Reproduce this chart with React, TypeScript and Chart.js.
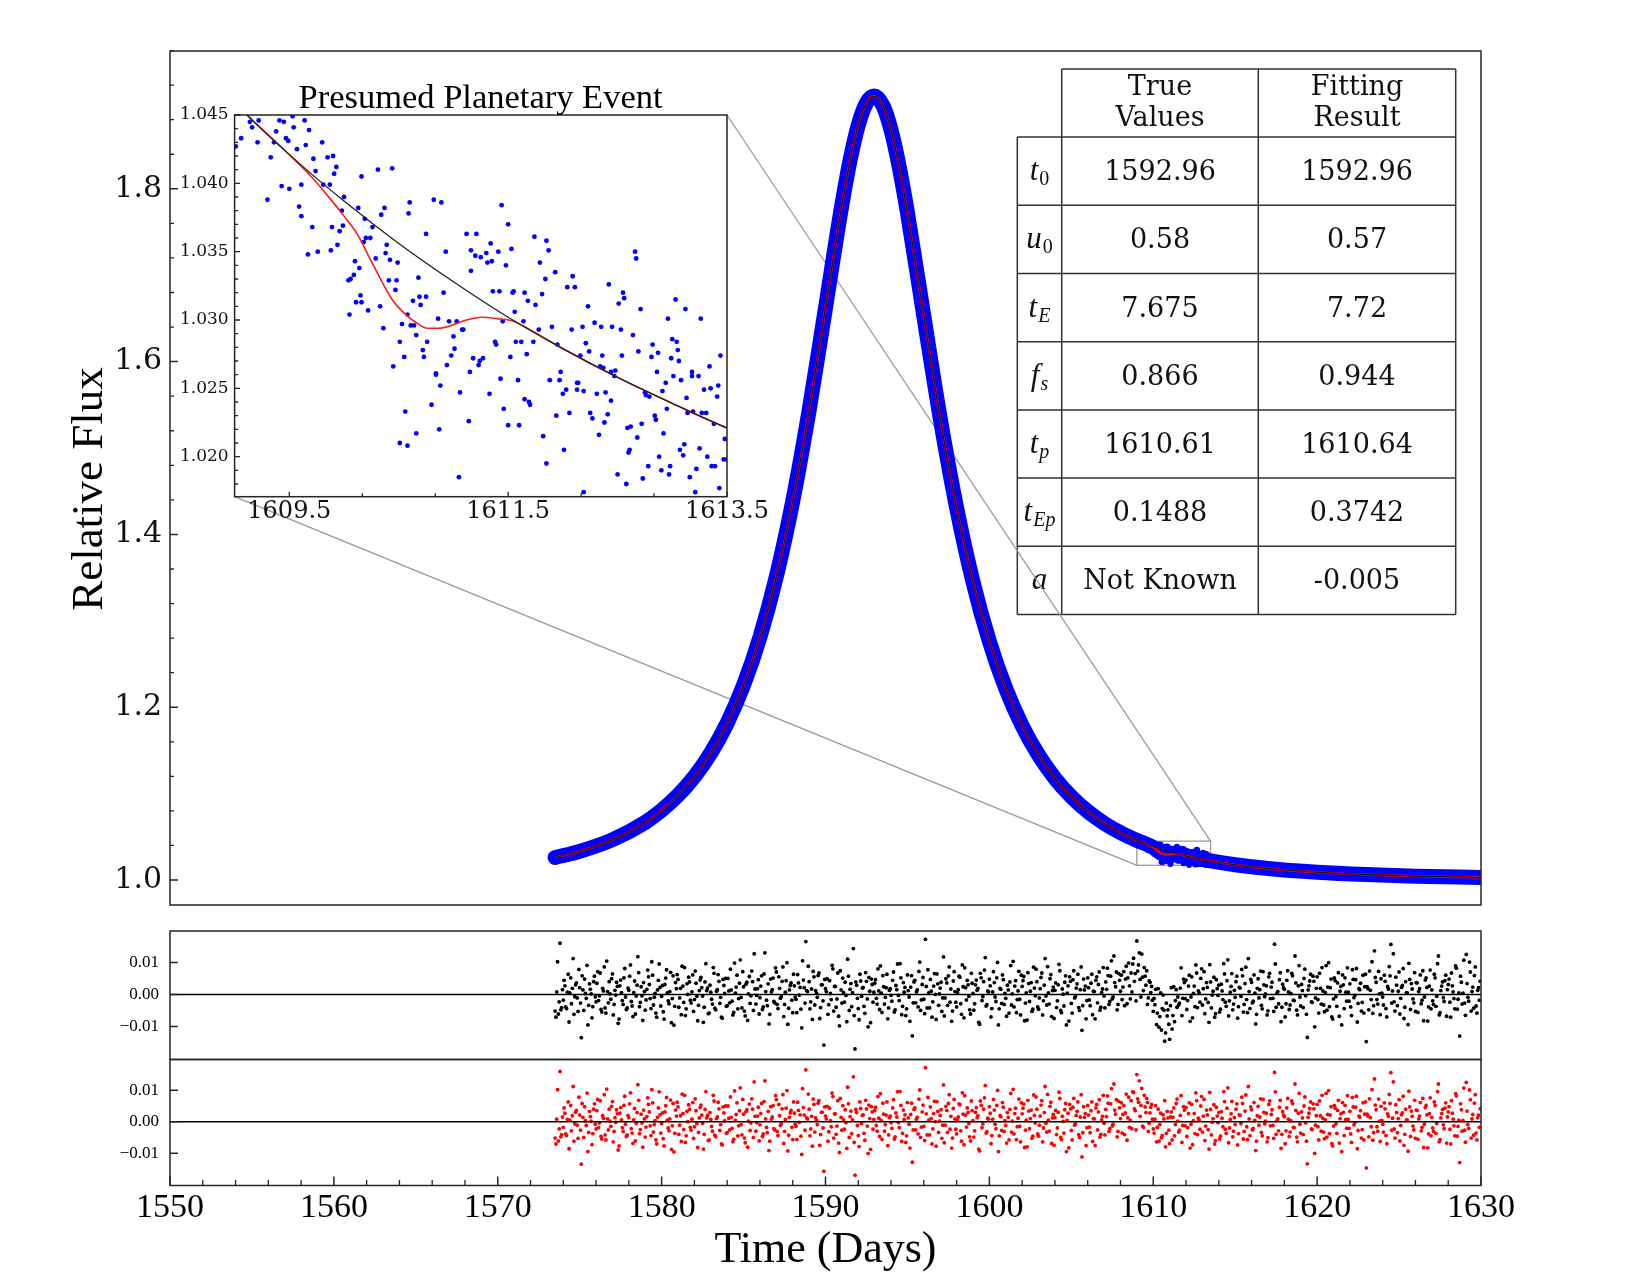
import { useEffect, useRef } from "react";
import { Chart, registerables } from "chart.js";

Chart.register(...registerables);

const PAGE_W = 1650;
const PAGE_H = 1275;

// Panel frames in page pixels
const MAIN = { left: 170, right: 1481, top: 51, bottom: 905 };
const RES_TOP = { top: 931, bottom: 1059.5 };
const RES_BOT = { top: 1059.5, bottom: 1185.5 };
const INSET = { left: 234.6, right: 727, top: 115, bottom: 496.7 };

// Axis limits
const TIME_RANGE = [1550, 1630];
const FLUX_RANGE = [0.9711, 1.9595];
const RESID_RANGE = [-0.0203, 0.0198];
const INSET_TIME_RANGE = [1609.0, 1613.5];
const INSET_FLUX_RANGE = [1.01707, 1.045];

// Tick labels
const TIME_TICKS = [1550, 1560, 1570, 1580, 1590, 1600, 1610, 1620, 1630];
const FLUX_TICKS = [1.0, 1.2, 1.4, 1.6, 1.8];
const RESID_TICKS = [0.01, 0.0, -0.01];
const INSET_TIME_TICKS = [1609.5, 1611.5, 1613.5];
const INSET_TIME_MINOR = [1610.1667, 1610.8333, 1612.1667, 1612.8333];
const INSET_FLUX_TICKS = [1.02, 1.025, 1.03, 1.035, 1.04, 1.045];

// Single-lens model light curve
const MODEL_TIMES = [
  1573.5, 1575, 1577, 1579, 1580, 1581, 1582, 1583, 1584, 1585, 1586, 1587, 1588, 1589, 1590,
  1591, 1591.5, 1592, 1592.5, 1592.96, 1593.5, 1594, 1594.5, 1595, 1596, 1597, 1598, 1599, 1600,
  1601, 1602, 1603, 1604, 1605, 1606, 1607, 1608, 1609, 1609.5, 1610, 1610.5, 1611, 1611.5, 1612,
  1612.5, 1613, 1613.5, 1615, 1617, 1620, 1623, 1626, 1630,
];
const PSPL_FLUX = [
  1.0261, 1.0332, 1.0466, 1.0668, 1.0807, 1.098, 1.1196, 1.147, 1.1816, 1.2255, 1.2811, 1.3513, 1.4384, 1.5434, 1.6623,
  1.7814, 1.833, 1.8737, 1.8995, 1.9075, 1.8965, 1.8681, 1.8253, 1.7724, 1.6525, 1.5344, 1.4308, 1.3451, 1.2762,
  1.2216, 1.1785, 1.1446, 1.1177, 1.0964, 1.0794, 1.0658, 1.0548, 1.0459, 1.0421, 1.0387, 1.0356, 1.0328, 1.0302, 1.0279,
  1.0258, 1.0239, 1.0221, 1.0177, 1.0133, 1.009, 1.0063, 1.0045, 1.003,
];

// Planetary model across the anomaly
const PLANET_TIMES = [
  1609.5, 1609.7, 1609.85, 1610.0, 1610.12, 1610.23, 1610.34, 1610.44, 1610.55, 1610.66, 1610.76,
  1610.87, 1610.98, 1611.12, 1611.26, 1611.4, 1611.55, 1611.65,
];
const PLANET_FLUX = [
  1.0421, 1.0405, 1.0391, 1.0376, 1.0363, 1.0346, 1.0329, 1.0315, 1.0305, 1.0298, 1.0294,
  1.0294, 1.0296, 1.03, 1.0302, 1.0301, 1.0299, 1.0295,
];

// Photometry around the presumed planetary event
const INSET_TIMES = [
  1609.01, 1609.06, 1609.14, 1609.16, 1609.21, 1609.22, 1609.33, 1609.36, 1609.38, 1609.41,
  1609.45, 1609.47, 1609.49, 1609.53, 1609.54, 1609.43, 1609.3, 1609.5, 1609.57, 1609.59,
  1609.61, 1609.61, 1609.64, 1609.65, 1609.68, 1609.67, 1609.71, 1609.72, 1609.74, 1609.76,
  1609.8, 1609.81, 1609.85, 1609.87, 1609.88, 1609.89, 1609.9, 1609.91, 1609.93, 1609.94,
  1609.96, 1609.98, 1610.0, 1609.99, 1610.04, 1610.05, 1610.06, 1610.09, 1610.1, 1610.11,
  1610.13, 1610.14, 1610.15, 1610.16, 1610.16, 1610.18, 1610.19, 1610.2, 1610.22, 1610.24,
  1610.26, 1610.29, 1610.31, 1610.33, 1610.34, 1610.36, 1610.37, 1610.38, 1610.39, 1610.41,
  1610.42, 1610.44, 1610.45, 1610.47, 1610.48, 1610.49, 1610.51, 1610.51, 1610.53, 1610.55,
  1610.56, 1610.58, 1610.58, 1610.6, 1610.59, 1610.61, 1610.63, 1610.64, 1610.66, 1610.66,
  1610.68, 1610.69, 1610.7, 1610.72, 1610.73, 1610.75, 1610.75, 1610.76, 1610.8, 1610.82,
  1610.84, 1610.84, 1610.86, 1610.87, 1610.88, 1610.89, 1610.91, 1610.93, 1610.94, 1610.96,
  1610.98, 1611.0, 1611.01, 1611.03, 1611.05, 1611.06, 1611.08, 1611.09, 1611.12, 1611.14,
  1611.15, 1611.16, 1611.16, 1611.18, 1611.2, 1611.21, 1611.23, 1611.24, 1611.25, 1611.27,
  1611.3, 1611.31, 1611.33, 1611.34, 1611.35, 1611.36, 1611.38, 1611.39, 1611.41, 1611.42,
  1611.43, 1611.44, 1611.45, 1611.46, 1611.48, 1611.5, 1611.5, 1611.52, 1611.53, 1611.54,
  1611.55, 1611.56, 1611.57, 1611.59, 1611.6, 1611.62, 1611.64, 1611.65, 1611.65, 1611.67,
  1611.68, 1611.69, 1611.7, 1611.73, 1611.74, 1611.75, 1611.78, 1611.79, 1611.81, 1611.82,
  1611.84, 1611.85, 1611.85, 1611.87, 1611.88, 1611.9, 1611.93, 1611.94, 1611.95, 1611.97,
  1611.98, 1612.0, 1612.01, 1612.03, 1612.04, 1612.06, 1612.08, 1612.09, 1612.11, 1612.13,
  1612.13, 1612.14, 1612.16, 1612.18, 1612.19, 1612.19, 1612.21, 1612.23, 1612.24, 1612.25,
  1612.27, 1612.29, 1612.31, 1612.33, 1612.34, 1612.35, 1612.36, 1612.37, 1612.38, 1612.39,
  1612.41, 1612.42, 1612.44, 1612.44, 1612.45, 1612.47, 1612.48, 1612.5, 1612.51, 1612.53,
  1612.54, 1612.55, 1612.56, 1612.58, 1612.59, 1612.6, 1612.61, 1612.62, 1612.64, 1612.66,
  1612.67, 1612.68, 1612.69, 1612.71, 1612.72, 1612.73, 1612.75, 1612.76, 1612.78, 1612.79,
  1612.81, 1612.82, 1612.84, 1612.85, 1612.86, 1612.87, 1612.88, 1612.9, 1612.91, 1612.92,
  1612.94, 1612.95, 1612.96, 1612.97, 1612.98, 1612.99, 1613.0, 1613.01, 1613.03, 1613.04,
  1613.05, 1613.06, 1613.07, 1613.08, 1613.1, 1613.11, 1613.12, 1613.13, 1613.14, 1613.16,
  1613.18, 1613.18, 1613.19, 1613.21, 1613.22, 1613.24, 1613.25, 1613.26, 1613.27, 1613.29,
  1613.31, 1613.32, 1613.34, 1613.35, 1613.36, 1613.38, 1613.39, 1613.41, 1613.42, 1613.43,
  1613.44, 1613.47, 1613.48, 1613.5,
];
const INSET_FLUX = [
  1.0427, 1.0433, 1.0445, 1.0441, 1.043, 1.0446, 1.0419, 1.043, 1.0438, 1.0446,
  1.0445, 1.0433, 1.0431, 1.0449, 1.0441, 1.0398, 1.0388, 1.0396, 1.0425, 1.0383,
  1.0376, 1.0399, 1.0446, 1.0428, 1.0439, 1.0348, 1.0368, 1.0418, 1.0409, 1.035,
  1.043, 1.0399, 1.0419, 1.0399, 1.0351, 1.0368, 1.042, 1.0407, 1.0412, 1.0355,
  1.0365, 1.038, 1.039, 1.0369, 1.0329, 1.0304, 1.033, 1.0333, 1.0343, 1.0313,
  1.0382, 1.0338, 1.0318, 1.0405, 1.0313, 1.0357, 1.0374, 1.036, 1.0307, 1.036,
  1.0368, 1.0345, 1.041, 1.031, 1.0377, 1.0294, 1.0382, 1.0349, 1.0355, 1.0329,
  1.0344, 1.0411, 1.0266, 1.0322, 1.0329, 1.0342, 1.021, 1.0284, 1.0297, 1.0273,
  1.0233, 1.0208, 1.0304, 1.0386, 1.0378, 1.0296, 1.0314, 1.0296, 1.0217, 1.0289,
  1.0331, 1.0317, 1.0311, 1.0278, 1.0273, 1.0363, 1.0317, 1.0284, 1.0238, 1.0388,
  1.026, 1.0261, 1.0301, 1.022, 1.0252, 1.0386, 1.032, 1.035, 1.0267, 1.0299,
  1.0274, 1.0288, 1.0279, 1.0299, 1.0185, 1.0247, 1.0293, 1.0293, 1.0363, 1.0226,
  1.0262, 1.0336, 1.0351, 1.0272, 1.0347, 1.0363, 1.0267, 1.027, 1.0346, 1.0272,
  1.0349, 1.0342, 1.0246, 1.0356, 1.0343, 1.0321, 1.0284, 1.0282, 1.035, 1.0321,
  1.0257, 1.0384, 1.0299, 1.0235, 1.034, 1.037, 1.0223, 1.0273, 1.0352, 1.032,
  1.0321, 1.0306, 1.0284, 1.0256, 1.0223, 1.0284, 1.0299, 1.032, 1.0242, 1.0275,
  1.0314, 1.024, 1.0238, 1.0284, 1.0361, 1.0311, 1.0293, 1.0342, 1.0319, 1.0215,
  1.033, 1.0195, 1.0358, 1.0351, 1.0256, 1.0295, 1.0335, 1.023, 1.0282, 1.0256,
  1.0262, 1.0246, 1.0205, 1.0249, 1.0324, 1.0232, 1.0293, 1.0332, 1.0324, 1.0249,
  1.0254, 1.0254, 1.0274, 1.0295, 1.0174, 1.0248, 1.0283, 1.031, 1.0277, 1.0232,
  1.0228, 1.0298, 1.0246, 1.0216, 1.0266, 1.0295, 1.0274, 1.0265, 1.0225, 1.0247,
  1.0231, 1.0326, 1.0262, 1.0241, 1.0295, 1.0259, 1.0263, 1.0187, 1.0312, 1.0293,
  1.0274, 1.032, 1.0316, 1.018, 1.0221, 1.0203, 1.0205, 1.0222, 1.0289, 1.035,
  1.0345, 1.0214, 1.0277, 1.0308, 1.0224, 1.0184, 1.0247, 1.0245, 1.0193, 1.0244,
  1.0273, 1.0282, 1.023, 1.0227, 1.0262, 1.0276, 1.02, 1.019, 1.0248, 1.0217,
  1.0254, 1.0235, 1.0301, 1.0187, 1.0193, 1.0272, 1.0286, 1.0259, 1.0315, 1.0284,
  1.0278, 1.027, 1.0205, 1.0256, 1.0201, 1.0209, 1.0308, 1.0243, 1.0232, 1.0185,
  1.0259, 1.0262, 1.0233, 1.0174, 1.0191, 1.0259, 1.0206, 1.0301, 1.0232, 1.0249,
  1.0232, 1.02, 1.0266, 1.025, 1.0193, 1.0224, 1.0193, 1.0244, 1.0252, 1.0177,
  1.0274, 1.0198, 1.0213, 1.0198,
];

// Residual sampling times (days), first cadence
const RESID_TIMES_A = [
  1573.5, 1573.6, 1573.7, 1573.8, 1573.9,
  1574, 1574.1, 1574.2, 1574.3, 1574.4, 1574.5, 1574.6, 1574.7, 1574.8, 1574.9,
  1575, 1575.1, 1575.2, 1575.3, 1575.4, 1575.5, 1575.6, 1575.7, 1575.8, 1575.9,
  1576, 1576.1, 1576.2, 1576.3, 1576.4, 1576.5, 1576.6, 1576.7, 1576.8, 1576.9,
  1577, 1577.1, 1577.2, 1577.3, 1577.4, 1577.5, 1577.6, 1577.7, 1577.8, 1577.9,
  1578, 1578.1, 1578.2, 1578.3, 1578.4, 1578.5, 1578.6, 1578.7, 1578.8, 1578.9,
  1579, 1579.1, 1579.2, 1579.3, 1579.4, 1579.5, 1579.6, 1579.7, 1579.8, 1579.9,
  1580, 1580.1, 1580.2, 1580.3, 1580.4, 1580.5, 1580.6, 1580.7, 1580.8, 1580.9,
  1581, 1581.1, 1581.2, 1581.3, 1581.4, 1581.5, 1581.6, 1581.7, 1581.8, 1581.9,
  1582, 1582.1, 1582.2, 1582.3, 1582.4, 1582.5, 1582.6, 1582.7, 1582.8, 1582.9,
  1583, 1583.1, 1583.2, 1583.3, 1583.4, 1583.5, 1583.6, 1583.7, 1583.8, 1583.9,
  1584, 1584.1, 1584.2, 1584.3, 1584.4, 1584.5, 1584.6, 1584.7, 1584.8, 1584.9,
  1585, 1585.1, 1585.2, 1585.3, 1585.4, 1585.5, 1585.6, 1585.7, 1585.8, 1585.9,
  1586, 1586.1, 1586.2, 1586.3, 1586.4, 1586.5, 1586.6, 1586.7, 1586.8, 1586.9,
  1587, 1587.1, 1587.2, 1587.3, 1587.4, 1587.5, 1587.6, 1587.7, 1587.8, 1587.9,
  1588, 1588.1, 1588.2, 1588.3, 1588.4, 1588.5, 1588.6, 1588.7, 1588.8, 1588.9,
  1589, 1589.1, 1589.2, 1589.3, 1589.4, 1589.5, 1589.6, 1589.7, 1589.8, 1589.9,
  1590, 1590.1, 1590.2, 1590.3, 1590.4, 1590.5, 1590.6, 1590.7, 1590.8, 1590.9,
  1591, 1591.1, 1591.2, 1591.3, 1591.4, 1591.5, 1591.6, 1591.7, 1591.8, 1591.9,
  1592, 1592.1, 1592.2, 1592.3, 1592.4, 1592.5, 1592.6, 1592.7, 1592.8, 1592.9,
  1593, 1593.1, 1593.2, 1593.3, 1593.4, 1593.5, 1593.6, 1593.7, 1593.8, 1593.9,
  1594, 1594.1, 1594.2, 1594.3, 1594.4, 1594.5, 1594.6, 1594.7, 1594.8, 1594.9,
  1595, 1595.1, 1595.2, 1595.3, 1595.4, 1595.5, 1595.6, 1595.7, 1595.8, 1595.9,
  1596, 1596.1, 1596.2, 1596.3, 1596.4, 1596.5, 1596.6, 1596.7, 1596.8, 1596.9,
  1597, 1597.1, 1597.2, 1597.3, 1597.4, 1597.5, 1597.6, 1597.7, 1597.8, 1597.9,
  1598, 1598.1, 1598.2, 1598.3, 1598.4, 1598.5, 1598.6, 1598.7, 1598.8, 1598.9,
  1599, 1599.1, 1599.2, 1599.3, 1599.4, 1599.5, 1599.6, 1599.7, 1599.8, 1599.9,
  1600, 1600.1, 1600.2, 1600.3, 1600.4, 1600.5, 1600.6, 1600.7, 1600.8, 1600.9,
  1601, 1601.1, 1601.2, 1601.3, 1601.4, 1601.5, 1601.6, 1601.7, 1601.8, 1601.9,
  1602, 1602.1, 1602.2, 1602.3, 1602.4, 1602.5, 1602.6, 1602.7, 1602.8, 1602.9,
  1603, 1603.1, 1603.2, 1603.3, 1603.4, 1603.5, 1603.6, 1603.7, 1603.8, 1603.9,
  1604, 1604.1, 1604.2, 1604.3, 1604.4, 1604.5, 1604.6, 1604.7, 1604.8, 1604.9,
  1605, 1605.1, 1605.2, 1605.3, 1605.4, 1605.5, 1605.6, 1605.7, 1605.8, 1605.9,
  1606, 1606.1, 1606.2, 1606.3, 1606.4, 1606.5, 1606.6, 1606.7, 1606.8, 1606.9,
  1607, 1607.1, 1607.2, 1607.3, 1607.4, 1607.5, 1607.6, 1607.7, 1607.8, 1607.9,
  1608, 1608.1, 1608.2, 1608.3, 1608.4, 1608.5, 1608.6, 1608.7, 1608.8, 1608.9,
  1609, 1609.1, 1609.2, 1609.3, 1609.4, 1609.5, 1609.6, 1609.7, 1609.8, 1609.9,
  1610, 1610.1, 1610.2, 1610.3, 1610.4, 1610.5, 1610.6, 1610.7, 1610.8, 1610.9,
  1611, 1611.1, 1611.2, 1611.3, 1611.4, 1611.5, 1611.6, 1611.7, 1611.8, 1611.9,
  1612, 1612.1, 1612.2, 1612.3, 1612.4, 1612.5, 1612.6, 1612.7, 1612.8, 1612.9,
  1613, 1613.1, 1613.2, 1613.3, 1613.4, 1613.5, 1613.6, 1613.7, 1613.8, 1613.9,
  1614, 1614.1, 1614.2, 1614.3, 1614.4, 1614.5, 1614.6, 1614.7, 1614.8, 1614.9,
  1615, 1615.1, 1615.2, 1615.3, 1615.4, 1615.5, 1615.6, 1615.7, 1615.8, 1615.9,
  1616, 1616.1, 1616.2, 1616.3, 1616.4, 1616.5, 1616.6, 1616.7, 1616.8, 1616.9,
  1617, 1617.1, 1617.2, 1617.3, 1617.4, 1617.5, 1617.6, 1617.7, 1617.8, 1617.9,
  1618, 1618.1, 1618.2, 1618.3, 1618.4, 1618.5, 1618.6, 1618.7, 1618.8, 1618.9,
  1619, 1619.1, 1619.2, 1619.3, 1619.4, 1619.5, 1619.6, 1619.7, 1619.8, 1619.9,
  1620, 1620.1, 1620.2, 1620.3, 1620.4, 1620.5, 1620.6, 1620.7, 1620.8, 1620.9,
  1621, 1621.1, 1621.2, 1621.3, 1621.4, 1621.5, 1621.6, 1621.7, 1621.8, 1621.9,
  1622, 1622.1, 1622.2, 1622.3, 1622.4, 1622.5, 1622.6, 1622.7, 1622.8, 1622.9,
  1623, 1623.1, 1623.2, 1623.3, 1623.4, 1623.5, 1623.6, 1623.7, 1623.8, 1623.9,
  1624, 1624.1, 1624.2, 1624.3, 1624.4, 1624.5, 1624.6, 1624.7, 1624.8, 1624.9,
  1625, 1625.1, 1625.2, 1625.3, 1625.4, 1625.5, 1625.6, 1625.7, 1625.8, 1625.9,
  1626, 1626.1, 1626.2, 1626.3, 1626.4, 1626.5, 1626.6, 1626.7, 1626.8, 1626.9,
  1627, 1627.1, 1627.2, 1627.3, 1627.4, 1627.5, 1627.6, 1627.7, 1627.8, 1627.9,
  1628, 1628.1, 1628.2, 1628.3, 1628.4, 1628.5, 1628.6, 1628.7, 1628.8, 1628.9,
  1629, 1629.1, 1629.2, 1629.3, 1629.4, 1629.5, 1629.6, 1629.7, 1629.8, 1629.9,
  1630,
];

// Residuals from the planetary fit at the first cadence, units of 1e-4
const RESID_PLANET_A_E4 = [
  -52, 8, -61, 160, -41,
  -18, 27, -44, 63, 5, -29, 112, -7, 36, -53,
  21, -135, 14, 48, -12, -95, 33, 2, -38, 57,
  -23, 71, -4, -47, 19, 86, -58, 9, 40, -15,
  64, -31, -2, 25, -77, 45, -19, 52, -8, -42,
  13, 92, -36, 6, -61, 29, 68, -25, -4, 37,
  -49, 16, 55, -13, 102, -33, 3, -71, 44, 22,
  -6, -54, 31, 77, -20, 9, -88, 58, -37, 18,
  47, -11, -63, 26, 84, -45, 0, 39, -27, 61,
  -16, 35, -82, 12, 53, -5, -40, 96, 20, -58,
  7, -30, 66, -48, 15, 41, -9, -74, 28, 50,
  -35, 11, 79, -21, -56, 4, 60, -13, 108, -42,
  24, -67, 38, 2, -28, 73, -50, 17, -3, 46,
  -10, 58, -39, 130, -18, 33, -62, 8, 51, -26,
  70, -44, 19, -7, 86, -31, 43, -93, 14, 36,
  -57, 27, -15, 62, -2, -46, 105, 21, 165, 9,
  40, -23, -78, 55, 12, -9, 67, -41, 30, -158,
  18, 49, -32, 3, 91, -52, 25, -14, -68, 74,
  -27, 6, 38, -85, 57, 16, -38, 143, -170, 29,
  -44, 63, -6, 22, -59, 41, -101, 10, 48, -24,
  35, -12, 80, -47, 4, 59, -30, 21, -76, 13,
  -3, 44, -55, 28, 95, -19, 52, -37, 7, -66,
  61, -8, 23, -129, 39, -26, 14, 72, -50, 31,
  -15, 172, -42, 5, 47, -71, 26, 0, 64, -34,
  20, -53, 117, -11, 36, 58, -24, -84, 42, 9,
  -39, 15, 54, -62, 24, 83, -17, 30, -48, 66,
  3, -29, 45, 19, -93, 52, -7, 76, -36, 11,
  48, -70, 8, 37, -22, 100, -45, 16, 61, -31,
  -12, 29, -58, 90, 2, -39, 43, -16, 72, -64,
  25, 56, -27, -80, 34, 10, -53, 85, -4, 40,
  -46, 18, 67, -20, 112, -33, 5, 49, -69, 23,
  13, -41, 30, 74, -57, 1, 38, -95, 27, 55,
  -28, 46, -11, 20, 63, -50, 86, -35, 14, -76,
  52, -17, 35, -63, 9, 44, -26, 70, -40, 17,
  -5, 39, 82, -31, 57, -14, 120, 24, -48, 65,
  10, -36, 51, 28, -59, 78, 4, -22, 93, 35,
  150, 62, 17, 106, -18, 47, 74, -31, 28, 55,
  -23, 8, -64, 40, -9, -51, 22, 67, -37, 12,
  -70, 31, 14, -45, 58, 2, -27, 83, -12, 37,
  45, -19, 60, -8, -73, 26, 92, -41, 5, 50,
  -33, 71, -14, 22, -87, 39, -2, 54, -60, 18,
  29, -46, 11, 96, -24, 43, -67, 7, 65, -30,
  -9, 57, -38, 20, 78, -55, 34, -16, 112, -44,
  38, -21, 4, -62, 49, 15, -34, 71, -7, 27,
  -51, 66, 23, -12, 157, -40, 9, 46, -85, 32,
  16, -29, 74, -47, 3, 58, -19, 36, -64, 90,
  -36, 12, 50, -4, -134, 27, 63, -25, 41, -11,
  55, -58, 19, 84, -33, 6, -49, 99, 21, -70,
  -14, 43, -37, 68, 10, -95, 30, 52, -21, 7,
  33, -66, 47, -3, 81, -28, 15, -52, 60, 24,
  -147, 18, 73, -16, -59, 136, 38, -30, 2, 49,
  -8, 60, -44, 25, 87, 156, 11, -23, 54, -35,
  70, -12, 28, -75, 40, 5, 97, -47, 17, -26,
  -53, 36, 9, 61, -18, -82, 45, 22, -39, 76,
  14, -31, 52, -6, 120, -57, 26, -10, 43, -68,
  31, -24, 67, 8, -45, 82, -15, -130, 38, 4,
  -27, 125, -9, 101, -52, 23, 59, -36, 13, -18,
  42,
];

// Residual sampling times (days), interleaved cadence
const RESID_TIMES_B = [
  1573.55, 1573.65, 1573.75, 1573.85, 1573.95,
  1574.05, 1574.15, 1574.25, 1574.35, 1574.45, 1574.55, 1574.65, 1574.75, 1574.85, 1574.95,
  1575.05, 1575.15, 1575.25, 1575.35, 1575.45, 1575.55, 1575.65, 1575.75, 1575.85, 1575.95,
  1576.05, 1576.15, 1576.25, 1576.35, 1576.45, 1576.55, 1576.65, 1576.75, 1576.85, 1576.95,
  1577.05, 1577.15, 1577.25, 1577.35, 1577.45, 1577.55, 1577.65, 1577.75, 1577.85, 1577.95,
  1578.05, 1578.15, 1578.25, 1578.35, 1578.45, 1578.55, 1578.65, 1578.75, 1578.85, 1578.95,
  1579.05, 1579.15, 1579.25, 1579.35, 1579.45, 1579.55, 1579.65, 1579.75, 1579.85, 1579.95,
  1580.05, 1580.15, 1580.25, 1580.35, 1580.45, 1580.55, 1580.65, 1580.75, 1580.85, 1580.95,
  1581.05, 1581.15, 1581.25, 1581.35, 1581.45, 1581.55, 1581.65, 1581.75, 1581.85, 1581.95,
  1582.05, 1582.15, 1582.25, 1582.35, 1582.45, 1582.55, 1582.65, 1582.75, 1582.85, 1582.95,
  1583.05, 1583.15, 1583.25, 1583.35, 1583.45, 1583.55, 1583.65, 1583.75, 1583.85, 1583.95,
  1584.05, 1584.15, 1584.25, 1584.35, 1584.45, 1584.55, 1584.65, 1584.75, 1584.85, 1584.95,
  1585.05, 1585.15, 1585.25, 1585.35, 1585.45, 1585.55, 1585.65, 1585.75, 1585.85, 1585.95,
  1586.05, 1586.15, 1586.25, 1586.35, 1586.45, 1586.55, 1586.65, 1586.75, 1586.85, 1586.95,
  1587.05, 1587.15, 1587.25, 1587.35, 1587.45, 1587.55, 1587.65, 1587.75, 1587.85, 1587.95,
  1588.05, 1588.15, 1588.25, 1588.35, 1588.45, 1588.55, 1588.65, 1588.75, 1588.85, 1588.95,
  1589.05, 1589.15, 1589.25, 1589.35, 1589.45, 1589.55, 1589.65, 1589.75, 1589.85, 1589.95,
  1590.05, 1590.15, 1590.25, 1590.35, 1590.45, 1590.55, 1590.65, 1590.75, 1590.85, 1590.95,
  1591.05, 1591.15, 1591.25, 1591.35, 1591.45, 1591.55, 1591.65, 1591.75, 1591.85, 1591.95,
  1592.05, 1592.15, 1592.25, 1592.35, 1592.45, 1592.55, 1592.65, 1592.75, 1592.85, 1592.95,
  1593.05, 1593.15, 1593.25, 1593.35, 1593.45, 1593.55, 1593.65, 1593.75, 1593.85, 1593.95,
  1594.05, 1594.15, 1594.25, 1594.35, 1594.45, 1594.55, 1594.65, 1594.75, 1594.85, 1594.95,
  1595.05, 1595.15, 1595.25, 1595.35, 1595.45, 1595.55, 1595.65, 1595.75, 1595.85, 1595.95,
  1596.05, 1596.15, 1596.25, 1596.35, 1596.45, 1596.55, 1596.65, 1596.75, 1596.85, 1596.95,
  1597.05, 1597.15, 1597.25, 1597.35, 1597.45, 1597.55, 1597.65, 1597.75, 1597.85, 1597.95,
  1598.05, 1598.15, 1598.25, 1598.35, 1598.45, 1598.55, 1598.65, 1598.75, 1598.85, 1598.95,
  1599.05, 1599.15, 1599.25, 1599.35, 1599.45, 1599.55, 1599.65, 1599.75, 1599.85, 1599.95,
  1600.05, 1600.15, 1600.25, 1600.35, 1600.45, 1600.55, 1600.65, 1600.75, 1600.85, 1600.95,
  1601.05, 1601.15, 1601.25, 1601.35, 1601.45, 1601.55, 1601.65, 1601.75, 1601.85, 1601.95,
  1602.05, 1602.15, 1602.25, 1602.35, 1602.45, 1602.55, 1602.65, 1602.75, 1602.85, 1602.95,
  1603.05, 1603.15, 1603.25, 1603.35, 1603.45, 1603.55, 1603.65, 1603.75, 1603.85, 1603.95,
  1604.05, 1604.15, 1604.25, 1604.35, 1604.45, 1604.55, 1604.65, 1604.75, 1604.85, 1604.95,
  1605.05, 1605.15, 1605.25, 1605.35, 1605.45, 1605.55, 1605.65, 1605.75, 1605.85, 1605.95,
  1606.05, 1606.15, 1606.25, 1606.35, 1606.45, 1606.55, 1606.65, 1606.75, 1606.85, 1606.95,
  1607.05, 1607.15, 1607.25, 1607.35, 1607.45, 1607.55, 1607.65, 1607.75, 1607.85, 1607.95,
  1608.05, 1608.15, 1608.25, 1608.35, 1608.45, 1608.55, 1608.65, 1608.75, 1608.85, 1608.95,
  1609.05, 1609.15, 1609.25, 1609.35, 1609.45, 1609.55, 1609.65, 1609.75, 1609.85, 1609.95,
  1610.05, 1610.15, 1610.25, 1610.35, 1610.45, 1610.55, 1610.65, 1610.75, 1610.85, 1610.95,
  1611.05, 1611.15, 1611.25, 1611.35, 1611.45, 1611.55, 1611.65, 1611.75, 1611.85, 1611.95,
  1612.05, 1612.15, 1612.25, 1612.35, 1612.45, 1612.55, 1612.65, 1612.75, 1612.85, 1612.95,
  1613.05, 1613.15, 1613.25, 1613.35, 1613.45, 1613.55, 1613.65, 1613.75, 1613.85, 1613.95,
  1614.05, 1614.15, 1614.25, 1614.35, 1614.45, 1614.55, 1614.65, 1614.75, 1614.85, 1614.95,
  1615.05, 1615.15, 1615.25, 1615.35, 1615.45, 1615.55, 1615.65, 1615.75, 1615.85, 1615.95,
  1616.05, 1616.15, 1616.25, 1616.35, 1616.45, 1616.55, 1616.65, 1616.75, 1616.85, 1616.95,
  1617.05, 1617.15, 1617.25, 1617.35, 1617.45, 1617.55, 1617.65, 1617.75, 1617.85, 1617.95,
  1618.05, 1618.15, 1618.25, 1618.35, 1618.45, 1618.55, 1618.65, 1618.75, 1618.85, 1618.95,
  1619.05, 1619.15, 1619.25, 1619.35, 1619.45, 1619.55, 1619.65, 1619.75, 1619.85, 1619.95,
  1620.05, 1620.15, 1620.25, 1620.35, 1620.45, 1620.55, 1620.65, 1620.75, 1620.85, 1620.95,
  1621.05, 1621.15, 1621.25, 1621.35, 1621.45, 1621.55, 1621.65, 1621.75, 1621.85, 1621.95,
  1622.05, 1622.15, 1622.25, 1622.35, 1622.45, 1622.55, 1622.65, 1622.75, 1622.85, 1622.95,
  1623.05, 1623.15, 1623.25, 1623.35, 1623.45, 1623.55, 1623.65, 1623.75, 1623.85, 1623.95,
  1624.05, 1624.15, 1624.25, 1624.35, 1624.45, 1624.55, 1624.65, 1624.75, 1624.85, 1624.95,
  1625.05, 1625.15, 1625.25, 1625.35, 1625.45, 1625.55, 1625.65, 1625.75, 1625.85, 1625.95,
  1626.05, 1626.15, 1626.25, 1626.35, 1626.45, 1626.55, 1626.65, 1626.75, 1626.85, 1626.95,
  1627.05, 1627.15, 1627.25, 1627.35, 1627.45, 1627.55, 1627.65, 1627.75, 1627.85, 1627.95,
  1628.05, 1628.15, 1628.25, 1628.35, 1628.45, 1628.55, 1628.65, 1628.75, 1628.85, 1628.95,
  1629.05, 1629.15, 1629.25, 1629.35, 1629.45, 1629.55, 1629.65, 1629.75, 1629.85, 1629.95,
];

// Residuals from the planetary fit at the interleaved cadence, units of 1e-4
const RESID_PLANET_B_E4 = [
  -71, 102, -23, -48, 15,
  44, -39, 7, -86, 52, 19, -62, 30, -11, 78,
  -27, 58, -50, 3, 91, -34, 16, -73, 40, -8,
  35, -19, 67, -55, 11, -42, 104, -26, 2, 49,
  -64, 13, 38, -90, 27, 6, -31, 81, -47, 20,
  57, -22, -69, 42, -5, 118, -38, 24, -81, 9,
  -17, 76, 31, -44, 60, -9, -58, 14, 95, -36,
  28, -77, 51, 5, -29, 69, -13, -96, 37, 62,
  -40, 19, 88, -25, -66, 33, 54, -18, 8, -53,
  73, -6, -34, 45, 21, -87, 39, 12, -60, 29,
  -15, 84, -43, 10, 62, -28, -71, 47, 3, -37,
  50, -26, 14, -64, 98, 23, -45, 35, -9, 71,
  -52, 32, -81, 56, -4, 40, 127, -30, 18, -61,
  26, -47, 64, 9, -35, -92, 48, 15, -22, 83,
  -31, 55, -12, 41, -69, 7, 99, -43, 28, -18,
  63, -8, -57, 36, 22, -104, 45, -27, 12, 88,
  -45, 17, 72, -33, 4, 59, -75, 30, -20, 47,
  9, -62, 43, -16, 80, 25, -40, 67, -98, 14,
  51, -24, -3, 110, -50, 34, 6, -66, 39, -12,
  -79, 42, 20, -37, 68, -14, 53, -88, 31, 7,
  46, -30, 11, 89, -56, 24, -9, 63, -42, 18,
  -21, 70, -48, 15, -3, 96, -63, 37, 22, -45,
  12, -84, 59, -26, 44, 8, -39, 101, -17, 53,
  -60, 25, 77, -42, 10, -23, 65, -78, 33, 2,
  38, -11, -67, 49, -34, 86, 17, -52, 71, -24,
  6, 57, -29, 92, -73, 21, 44, -6, -61, 35,
  -49, 30, 13, -87, 66, -19, 40, 115, -32, 8,
  27, -44, 71, -8, 52, -95, 19, -28, 46, 3,
  -68, 14, 39, -33, 103, 26, -57, 11, -15, 60,
  43, -82, 5, 68, -22, 37, -46, 20, 79, -39,
  -11, 53, -64, 29, -5, 87, -30, 62, 12, -75,
  36, -20, 94, -50, 17, -36, 58, 4, -83, 41,
  -58, 74, -7, 33, -41, 15, -112, 48, 26, -19,
  21, -35, 63, 10, -76, 55, 31, -49, 6, 84,
  -42, 16, 59, -22, 105, -8, 37, 70, -31, 44,
  60, 23, -41, 88, 12, -18, 67, 95, 41, -26,
  73, 130, 52, -14, 84, 29, 61, -5, 46, 8,
  -36, 51, -18, -62, 27, -44, 9, -80, 33, -27,
  15, -58, 44, -9, 72, -33, 20, -66, 48, -13,
  -47, 26, -84, 55, 3, -38, 67, 11, -24, 80,
  18, -60, 37, -25, 93, -42, 10, -71, 46, -3,
  -55, 32, -16, 64, -37, 108, -20, 25, -48, 13,
  40, -74, 22, -6, 58, -31, 85, -57, 9, 47,
  -26, 61, -92, 19, -11, 73, -45, 30, 2, -64,
  55, -13, 38, -53, 95, 4, -29, 68, -40, 21,
  -70, 44, 8, -33, 66, -18, 120, -49, 27, -8,
  31, -41, 79, -62, 14, 42, -23, 57, -101, 19,
  -16, 66, -30, 11, -54, 90, 23, -38, 48, -77,
  52, -7, 36, -68, 25, 61, -44, 7, 83, -21,
  -39, 77, -10, 46, -86, 18, 35, -25, -58, 63,
  24, -48, 13, 102, -35, 53, -16, 72, -63, 4,
  -33, 41, -70, 17, 58, -27, 127, -52, 29, 10,
  -61, 22, 81, -40, 6, -94, 47, 34, -14, 68,
  37, -56, 18, -29, 74, -8, 52, -83, 26, -45,
  -20, 63, -37, 96, -64, 12, 39, -22, 60, 15,
  48, -71, 27, -13, 89, -46, 5, 57, -30, 107,
  -65, 34, -21, 70, 9, -43, 86, -58, 21, 41,
];

// Single-lens residuals where they depart from the planetary fit, units of 1e-4
const PSPL_WINDOW_TIMES = [
  1608, 1608.05, 1608.1, 1608.15, 1608.2, 1608.25, 1608.3, 1608.35, 1608.4, 1608.45,
  1608.5, 1608.55, 1608.6, 1608.65, 1608.7, 1608.75, 1608.8, 1608.85, 1608.9, 1608.95,
  1609, 1609.05, 1609.1, 1609.15, 1609.2, 1609.25, 1609.3, 1609.35, 1609.4, 1609.45,
  1609.5, 1609.55, 1609.6, 1609.65, 1609.7, 1609.75, 1609.8, 1609.85, 1609.9, 1609.95,
  1610, 1610.05, 1610.1, 1610.15, 1610.2, 1610.25, 1610.3, 1610.35, 1610.4, 1610.45,
  1610.5, 1610.55, 1610.6, 1610.65, 1610.7, 1610.75, 1610.8, 1610.85, 1610.9, 1610.95,
  1611, 1611.05, 1611.1, 1611.15, 1611.2, 1611.25, 1611.3, 1611.35, 1611.4, 1611.45,
  1611.5,
];
const PSPL_WINDOW_E4 = [
  10, 60, -16, 23, 71, -35, 48, 88, -29, 52,
  98, 27, -14, 67, 8, 95, 113, 41, 65, -20,
  167, 73, 92, 130, 47, -8, 126, 54, 12, 84,
  57, 29, 74, -31, -11, 42, 38, 6, 25, -18,
  -53, -12, -32, 16, -94, -58, 18, -102, -69, 5,
  -111, -44, -2, -49, -146, -120, -27, -67, -48, -93,
  -140, -35, 21, -108, -66, 24, -85, -19, 15, -40,
  -8,
];

// Parameter table
const TABLE_HEADERS = [["True", "Values"], ["Fitting", "Result"]];
const TABLE_SYMBOLS = [
  { sym: "t", sub: "0" },
  { sym: "u", sub: "0" },
  { sym: "t", sub: "E" },
  { sym: "f", sub: "s" },
  { sym: "t", sub: "p" },
  { sym: "t", sub: "Ep" },
  { sym: "a", sub: "" },
];
const TRUE_VALUES = ["1592.96", "0.58", "7.675", "0.866", "1610.61", "0.1488", "Not Known"];
const FIT_VALUES = ["1592.96", "0.57", "7.72", "0.944", "1610.64", "0.3742", "-0.005"];

// Table geometry
const TABLE_COLS = [1017.3, 1061.7, 1258.3, 1455.7];
const TABLE_TOP = 69.1;
const TABLE_HEAD_BOTTOM = 137.1;
const TABLE_ROW_H = 68.2;

const SERIF = "'Liberation Serif', 'Times New Roman', serif";
const DV_SERIF = "'DejaVu Serif', serif";
const FRAME = "#262626";

type P = { x: number; y: number };
const zip = (xs: number[], ys: number[], k = 1): P[] => {
  const n = Math.min(xs.length, ys.length);
  const out: P[] = [];
  for (let i = 0; i < n; i++) out.push({ x: xs[i], y: ys[i] * k });
  return out;
};

function psplCurve(): P[] {
  return zip(MODEL_TIMES, PSPL_FLUX);
}

function planetCurve(): P[] {
  const t0 = PLANET_TIMES[0];
  const t1 = PLANET_TIMES[PLANET_TIMES.length - 1];
  const outside = psplCurve().filter((p) => p.x < t0 || p.x > t1);
  return [...outside, ...zip(PLANET_TIMES, PLANET_FLUX)].sort((a, b) => a.x - b.x);
}

function planetResiduals(): P[] {
  return [...zip(RESID_TIMES_A, RESID_PLANET_A_E4, 1e-4), ...zip(RESID_TIMES_B, RESID_PLANET_B_E4, 1e-4)];
}

function psplResiduals(): P[] {
  const w0 = PSPL_WINDOW_TIMES[0] - 0.01;
  const w1 = PSPL_WINDOW_TIMES[PSPL_WINDOW_TIMES.length - 1] + 0.01;
  const base = planetResiduals().filter((p) => p.x < w0 || p.x > w1);
  return [...base, ...zip(PSPL_WINDOW_TIMES, PSPL_WINDOW_E4, 1e-4)];
}

function strokeFrame(ctx: CanvasRenderingContext2D, a: any) {
  ctx.save();
  ctx.strokeStyle = FRAME;
  ctx.lineWidth = 1.5;
  ctx.strokeRect(a.left, a.top, a.right - a.left, a.bottom - a.top);
  ctx.restore();
}

function leftTicks(ctx: CanvasRenderingContext2D, chart: any, values: number[], len: number, lw = 1.3) {
  const a = chart.chartArea;
  const s = chart.scales.y;
  ctx.save();
  ctx.strokeStyle = FRAME;
  ctx.lineWidth = lw;
  ctx.beginPath();
  for (const v of values) {
    const py = s.getPixelForValue(v);
    if (py < a.top - 0.5 || py > a.bottom + 0.5) continue;
    ctx.moveTo(a.left, py);
    ctx.lineTo(a.left + len, py);
  }
  ctx.stroke();
  ctx.restore();
}

function bottomTicks(ctx: CanvasRenderingContext2D, chart: any, values: number[], len: number, lw = 1.3) {
  const a = chart.chartArea;
  const s = chart.scales.x;
  ctx.save();
  ctx.strokeStyle = FRAME;
  ctx.lineWidth = lw;
  ctx.beginPath();
  for (const v of values) {
    const px = s.getPixelForValue(v);
    if (px < a.left - 0.5 || px > a.right + 0.5) continue;
    ctx.moveTo(px, a.bottom);
    ctx.lineTo(px, a.bottom - len);
  }
  ctx.stroke();
  ctx.restore();
}

function drawTable(ctx: CanvasRenderingContext2D) {
  const [c0, c1, c2, c3] = TABLE_COLS;
  const rows = TABLE_SYMBOLS.length;
  const bottom = TABLE_HEAD_BOTTOM + rows * TABLE_ROW_H;
  ctx.save();
  ctx.strokeStyle = "#333";
  ctx.lineWidth = 1.5;
  ctx.beginPath();
  ctx.moveTo(c1, TABLE_TOP);
  ctx.lineTo(c3, TABLE_TOP);
  for (let r = 0; r <= rows; r++) {
    const y = TABLE_HEAD_BOTTOM + r * TABLE_ROW_H;
    ctx.moveTo(c0, y);
    ctx.lineTo(c3, y);
  }
  ctx.moveTo(c0, TABLE_HEAD_BOTTOM);
  ctx.lineTo(c0, bottom);
  for (const c of [c1, c2, c3]) {
    ctx.moveTo(c, TABLE_TOP);
    ctx.lineTo(c, bottom);
  }
  ctx.stroke();

  ctx.fillStyle = "#111";
  ctx.textAlign = "center";
  ctx.textBaseline = "alphabetic";
  ctx.font = `27px ${DV_SERIF}`;
  const centers = [(c1 + c2) / 2, (c2 + c3) / 2];
  TABLE_HEADERS.forEach((lines, i) => {
    lines.forEach((t, j) => ctx.fillText(t, centers[i], 94.5 + j * 31));
  });

  for (let r = 0; r < rows; r++) {
    const base = TABLE_HEAD_BOTTOM + r * TABLE_ROW_H + TABLE_ROW_H / 2 + 9;
    ctx.textAlign = "center";
    ctx.font = `27px ${DV_SERIF}`;
    ctx.fillText(TRUE_VALUES[r], centers[0], base);
    ctx.fillText(FIT_VALUES[r], centers[1], base);

    const { sym, sub } = TABLE_SYMBOLS[r];
    const mainFont = `italic 31px ${SERIF}`;
    const subFont = /^[0-9]+$/.test(sub) ? `20px ${SERIF}` : `italic 20px ${SERIF}`;
    ctx.font = mainFont;
    const wMain = ctx.measureText(sym).width;
    ctx.font = subFont;
    const wSub = sub ? ctx.measureText(sub).width : 0;
    const x0 = (c0 + c1) / 2 - (wMain + wSub + (sub ? 1 : 0)) / 2;
    ctx.textAlign = "left";
    ctx.font = mainFont;
    ctx.fillText(sym, x0, base);
    if (sub) {
      ctx.font = subFont;
      ctx.fillText(sub, x0 + wMain + 1, base + 5);
    }
  }
  ctx.restore();
}

const baseOptions = (padding: any) => ({
  responsive: false,
  maintainAspectRatio: false,
  animation: false as const,
  devicePixelRatio: 1,
  events: [] as any[],
  layout: { padding },
  plugins: { legend: { display: false }, tooltip: { enabled: false } },
});

const hiddenGrid = { display: false, drawTicks: false };

export default function App() {
  const mainRef = useRef<HTMLCanvasElement>(null);
  const res1Ref = useRef<HTMLCanvasElement>(null);
  const res2Ref = useRef<HTMLCanvasElement>(null);
  const insetRef = useRef<HTMLCanvasElement>(null);

  useEffect(() => {
    const charts: Chart[] = [];
    const planet = planetCurve();
    const pspl = psplCurve();
    const insetPts = zip(INSET_TIMES, INSET_FLUX);

    // ---- inset: presumed planetary event ----
    const insetDecor = {
      id: "insetDecor",
      beforeDraw(chart: any) {
        const a = chart.chartArea;
        const ctx = chart.ctx;
        ctx.save();
        ctx.fillStyle = "#fff";
        ctx.fillRect(a.left, a.top, a.right - a.left, a.bottom - a.top);
        ctx.restore();
      },
      afterDraw(chart: any) {
        const ctx = chart.ctx;
        strokeFrame(ctx, chart.chartArea);
        bottomTicks(ctx, chart, INSET_TIME_TICKS, 5);
        bottomTicks(ctx, chart, INSET_TIME_MINOR, 3.5);
        const minor: number[] = [];
        const major: number[] = [];
        for (let k = 1017; k <= 1045; k++) (k % 5 === 0 ? major : minor).push(k / 1000);
        leftTicks(ctx, chart, major, 5.5);
        leftTicks(ctx, chart, minor, 3.5);
        ctx.save();
        ctx.fillStyle = "#000";
        ctx.font = `34.5px ${SERIF}`;
        ctx.textAlign = "center";
        ctx.textBaseline = "alphabetic";
        ctx.fillText("Presumed Planetary Event", 480.5, 107.5);
        ctx.restore();
      },
    };
    const inset = new Chart(insetRef.current as HTMLCanvasElement, {
      type: "scatter",
      data: {
        datasets: [
          { data: pspl, showLine: true, borderColor: "#222", borderWidth: 1.3, pointRadius: 0, cubicInterpolationMode: "monotone", clip: 0 } as any,
          { data: planet, showLine: true, borderColor: "#ff1a1a", borderWidth: 1.6, pointRadius: 0, cubicInterpolationMode: "monotone", clip: 0 } as any,
          { data: insetPts, pointRadius: 2.4, pointBackgroundColor: "#0000ff", pointBorderWidth: 0, clip: 0 } as any,
        ],
      },
      options: {
        ...baseOptions({ left: 0, top: INSET.top, right: PAGE_W - INSET.right, bottom: 0 }),
        scales: {
          x: {
            type: "linear",
            min: INSET_TIME_RANGE[0],
            max: INSET_TIME_RANGE[1],
            afterFit: (s: any) => { s.height = PAGE_H - INSET.bottom; },
            afterBuildTicks: (s: any) => { s.ticks = INSET_TIME_TICKS.map((v) => ({ value: v })); },
            ticks: { autoSkip: false, maxRotation: 0, padding: 1, color: "#111", font: { family: DV_SERIF, size: 24 }, callback: (v: any) => Number(v).toFixed(1) },
            grid: hiddenGrid,
            border: { display: false },
          },
          y: {
            type: "linear",
            min: INSET_FLUX_RANGE[0],
            max: INSET_FLUX_RANGE[1],
            afterFit: (s: any) => { s.width = INSET.left; },
            afterBuildTicks: (s: any) => { s.ticks = INSET_FLUX_TICKS.map((v) => ({ value: v })); },
            ticks: { autoSkip: false, padding: 6, color: "#111", font: { family: DV_SERIF, size: 17 }, callback: (v: any) => Number(v).toFixed(3) },
            grid: hiddenGrid,
            border: { display: false },
          },
        },
      } as any,
      plugins: [insetDecor],
    });
    charts.push(inset);

    // ---- main light curve ----
    const mainDecor = {
      id: "mainDecor",
      beforeDatasetsDraw(chart: any) {
        const ctx = chart.ctx;
        drawTable(ctx);
        const xs = chart.scales.x;
        const ys = chart.scales.y;
        const x0 = xs.getPixelForValue(INSET_TIME_RANGE[0]);
        const x1 = xs.getPixelForValue(INSET_TIME_RANGE[1]);
        const yTop = ys.getPixelForValue(INSET_FLUX_RANGE[1]);
        const yBot = ys.getPixelForValue(INSET_FLUX_RANGE[0]);
        const ia = inset.chartArea;
        ctx.save();
        ctx.strokeStyle = "#999";
        ctx.lineWidth = 1.3;
        ctx.strokeRect(x0, yTop, x1 - x0, yBot - yTop);
        ctx.beginPath();
        ctx.moveTo(ia.right, ia.top);
        ctx.lineTo(x1, yTop);
        ctx.moveTo(ia.left, ia.bottom);
        ctx.lineTo(x0, yBot);
        ctx.stroke();
        ctx.restore();
      },
      afterDraw(chart: any) {
        const ctx = chart.ctx;
        strokeFrame(ctx, chart.chartArea);
        const minor: number[] = [];
        for (let k = 24; k <= 49; k++) if (k % 5 !== 0) minor.push(k * 0.04);
        leftTicks(ctx, chart, FLUX_TICKS, 8, 1.5);
        leftTicks(ctx, chart, minor, 4);
        ctx.save();
        ctx.fillStyle = "#000";
        ctx.font = `45px ${SERIF}`;
        ctx.textAlign = "center";
        ctx.textBaseline = "alphabetic";
        ctx.translate(101.7, 489);
        ctx.rotate(-Math.PI / 2);
        ctx.fillText("Relative Flux", 0, 0);
        ctx.restore();
      },
    };
    const main = new Chart(mainRef.current as HTMLCanvasElement, {
      type: "scatter",
      data: {
        datasets: [
          { data: pspl, showLine: true, borderColor: "#111", borderWidth: 1.1, pointRadius: 0, cubicInterpolationMode: "monotone", clip: 0 } as any,
          { data: planet, showLine: true, borderColor: "#ff0000", borderWidth: 2.2, pointRadius: 0, cubicInterpolationMode: "monotone", clip: 0 } as any,
          { data: insetPts, pointRadius: 3, pointBackgroundColor: "#0000ff", pointBorderWidth: 0, clip: 0 } as any,
          { data: planet, showLine: true, borderColor: "#0000ff", borderWidth: 15, borderCapStyle: "round", borderJoinStyle: "round", pointRadius: 0, cubicInterpolationMode: "monotone", clip: 0 } as any,
        ],
      },
      options: {
        ...baseOptions({ left: 0, top: MAIN.top, right: PAGE_W - MAIN.right, bottom: PAGE_H - MAIN.bottom }),
        scales: {
          x: { type: "linear", min: TIME_RANGE[0], max: TIME_RANGE[1], display: false },
          y: {
            type: "linear",
            min: FLUX_RANGE[0],
            max: FLUX_RANGE[1],
            afterFit: (s: any) => { s.width = MAIN.left; },
            afterBuildTicks: (s: any) => { s.ticks = FLUX_TICKS.map((v) => ({ value: v })); },
            ticks: { autoSkip: false, padding: 8, color: "#111", font: { family: DV_SERIF, size: 30 }, callback: (v: any) => Number(v).toFixed(1) },
            grid: hiddenGrid,
            border: { display: false },
          },
        },
      } as any,
      plugins: [mainDecor],
    });
    charts.push(main);

    // ---- residual panels ----
    const residChart = (canvas: HTMLCanvasElement, points: P[], color: string, box: { top: number; bottom: number }, withTimeAxis: boolean) => {
      const decor = {
        id: "residDecor",
        afterDatasetsDraw(chart: any) {
          const a = chart.chartArea;
          const py = chart.scales.y.getPixelForValue(0);
          const ctx = chart.ctx;
          ctx.save();
          ctx.strokeStyle = "#000";
          ctx.lineWidth = 1.5;
          ctx.beginPath();
          ctx.moveTo(a.left, py);
          ctx.lineTo(a.right, py);
          ctx.stroke();
          ctx.restore();
        },
        afterDraw(chart: any) {
          const ctx = chart.ctx;
          strokeFrame(ctx, chart.chartArea);
          leftTicks(ctx, chart, RESID_TICKS, 8, 1.5);
          if (withTimeAxis) {
            const major: number[] = [];
            const minor: number[] = [];
            for (let k = 775; k <= 815; k++) (k % 5 === 0 ? major : minor).push(k * 2);
            bottomTicks(ctx, chart, major, 9, 1.5);
            bottomTicks(ctx, chart, minor, 5.5);
            ctx.save();
            ctx.fillStyle = "#000";
            ctx.font = `44px ${SERIF}`;
            ctx.textAlign = "center";
            ctx.textBaseline = "alphabetic";
            ctx.fillText("Time (Days)", (MAIN.left + MAIN.right) / 2, 1262);
            ctx.restore();
          }
        },
      };
      return new Chart(canvas, {
        type: "scatter",
        data: {
          datasets: [{ data: points, pointRadius: 1.9, pointBackgroundColor: color, pointBorderWidth: 0, clip: 0 } as any],
        },
        options: {
          ...baseOptions({
            left: 0,
            top: box.top,
            right: PAGE_W - MAIN.right,
            bottom: withTimeAxis ? 0 : PAGE_H - box.bottom,
          }),
          scales: {
            x: withTimeAxis
              ? {
                  type: "linear",
                  min: TIME_RANGE[0],
                  max: TIME_RANGE[1],
                  afterFit: (s: any) => { s.height = PAGE_H - box.bottom; },
                  afterBuildTicks: (s: any) => { s.ticks = TIME_TICKS.map((v) => ({ value: v })); },
                  ticks: { autoSkip: false, maxRotation: 0, padding: 2, color: "#000", font: { family: SERIF, size: 34 }, callback: (v: any) => String(v) },
                  grid: hiddenGrid,
                  border: { display: false },
                }
              : { type: "linear", min: TIME_RANGE[0], max: TIME_RANGE[1], display: false },
            y: {
              type: "linear",
              min: RESID_RANGE[0],
              max: RESID_RANGE[1],
              afterFit: (s: any) => { s.width = MAIN.left; },
              afterBuildTicks: (s: any) => { s.ticks = RESID_TICKS.map((v) => ({ value: v })); },
              ticks: { autoSkip: false, padding: 11, color: "#000", font: { family: SERIF, size: 17 }, callback: (v: any) => Number(v).toFixed(2).replace("-", "\u2212") },
              grid: hiddenGrid,
              border: { display: false },
            },
          },
        } as any,
        plugins: [decor],
      });
    };
    charts.push(residChart(res1Ref.current as HTMLCanvasElement, psplResiduals(), "#000000", RES_TOP, false));
    charts.push(residChart(res2Ref.current as HTMLCanvasElement, planetResiduals(), "#ff0000", RES_BOT, true));

    return () => charts.forEach((c) => c.destroy());
  }, []);

  const canvasStyle: React.CSSProperties = { position: "absolute", left: 0, top: 0 };
  return (
    <div style={{ position: "absolute", left: 0, top: 0, width: PAGE_W, height: PAGE_H, background: "#fff", overflow: "hidden" }}>
      <canvas ref={mainRef} width={PAGE_W} height={PAGE_H} style={canvasStyle} />
      <canvas ref={res1Ref} width={PAGE_W} height={PAGE_H} style={canvasStyle} />
      <canvas ref={res2Ref} width={PAGE_W} height={PAGE_H} style={canvasStyle} />
      <canvas ref={insetRef} width={PAGE_W} height={PAGE_H} style={canvasStyle} />
    </div>
  );
}
